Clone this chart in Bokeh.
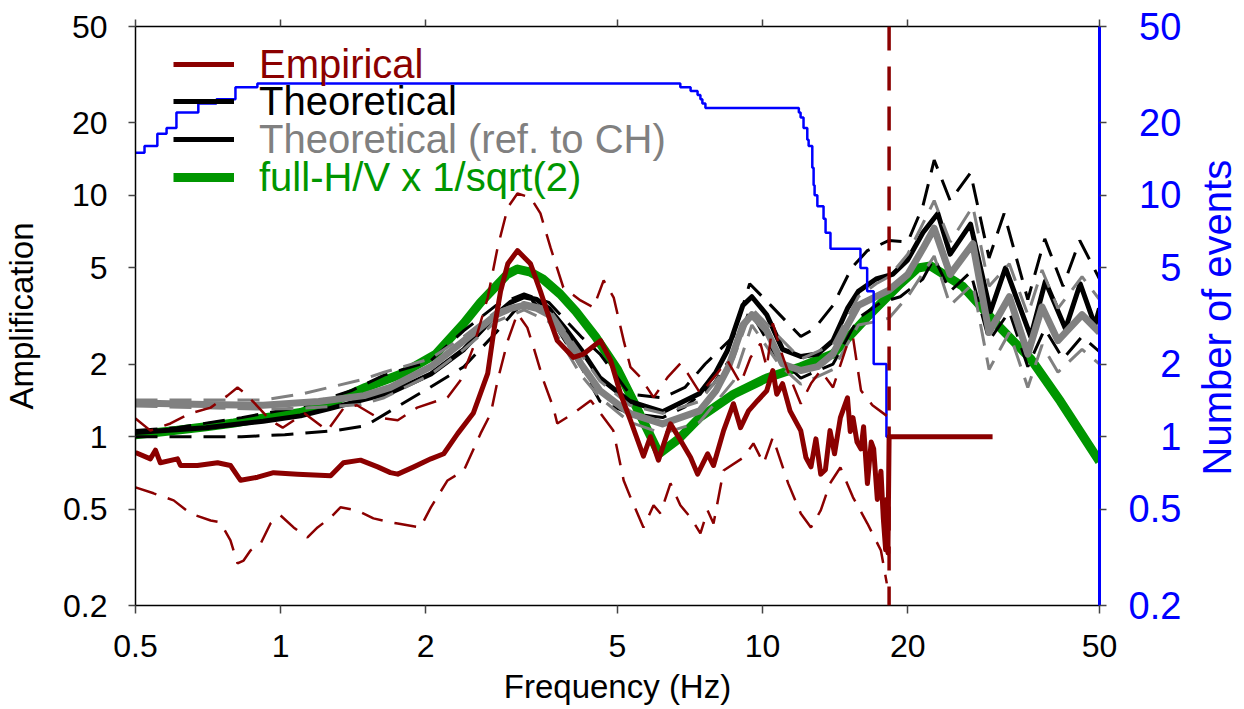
import math
from bokeh.plotting import figure
from bokeh.layouts import row
from bokeh.models import (Range1d, LogScale, LogAxis, FixedTicker, Legend, Span, Label,
                          NumeralTickFormatter, CustomJSTickFormatter)
from bokeh.embed import file_html
from bokeh.resources import INLINE

FONT = "Liberation Sans"
DARKRED = "#8b0000"
GREEN = "#009600"
GRAY = "#808080"

# ---------------- data ----------------
x_ticks = [0.5, 1, 2, 5, 10, 20, 50]
y_ticks = [0.2, 0.5, 1, 2, 5, 10, 20, 50]
y_tick_labels = ["0.2", "0.5", "1", "2", "5", "10", "20", "50"]

# full-H/V x 1/sqrt(2)
green_f = [0.5, 0.6, 0.7, 0.8, 0.93, 1.1, 1.27, 1.5, 1.78, 2.1, 2.4, 2.6, 2.8, 2.95, 3.1, 3.3,
           3.5, 3.8, 4.1, 4.5, 5.0, 5.5, 6.1, 6.7, 7.4, 8.7, 10.2, 12.0, 14.0, 16.4, 19.3,
           21.0, 22.3, 26.0, 31.0, 36.0, 41.5, 50.0]
green_a = [1.02, 1.06, 1.10, 1.14, 1.2, 1.26, 1.38, 1.6, 1.82, 2.2, 2.95, 3.6, 4.2, 4.7, 4.95, 4.8,
           4.5, 3.9, 3.3, 2.6, 1.9, 1.3, 0.85, 0.98, 1.2, 1.5, 1.75, 1.95, 2.2, 3.1, 4.3,
           5.0, 5.1, 4.2, 2.85, 2.1, 1.4, 0.79]

# Theoretical
theo_f = [0.5, 0.7, 0.92, 1.1, 1.27, 1.48, 1.69, 2.05, 2.4, 2.8, 3.0, 3.2, 3.4, 3.6, 3.9, 4.2,
          4.6, 5.3, 6.2, 7.4, 8.0, 8.45, 9.1, 9.5, 10.2, 11.0, 12.0, 13.0, 14.0, 15.0, 15.8,
          17.2, 18.6, 20.0, 21.5, 23.1, 24.5, 27.0, 29.7, 31.9, 36.0, 38.6, 42.5, 45.6, 48.9, 50.0]
theo_a = [1.04, 1.09, 1.16, 1.22, 1.31, 1.42, 1.52, 1.82, 2.3, 3.2, 3.6, 3.8, 3.7, 3.4, 2.8, 2.3,
          1.75, 1.4, 1.27, 1.51, 1.85, 2.27, 3.5, 3.8, 3.2, 2.3, 2.15, 2.2, 2.5, 3.4, 4.0,
          4.5, 4.7, 5.4, 7.0, 8.4, 5.7, 7.6, 3.3, 5.0, 2.6, 4.4, 2.8, 4.3, 2.9, 3.4]
theo_up_f = [0.5, 0.61, 0.83, 1.1, 1.4, 1.64, 2.04, 2.4, 2.8, 3.2, 3.6, 4.2, 4.6, 5.3, 6.2, 6.9,
             7.6, 8.7, 9.4, 10.4, 12.0, 12.8, 14.0, 15.3, 16.5, 18.3, 20.0, 21.5, 22.7, 24.5,
             27.0, 29.5, 31.7, 35.5, 38.5, 42.0, 45.5, 50.0]
theo_up_a = [1.06, 1.09, 1.2, 1.33, 1.55, 1.8, 2.05, 2.75, 3.5, 3.9, 3.6, 2.6, 2.2, 1.5, 1.45, 1.6,
             2.0, 2.6, 4.3, 3.5, 2.6, 2.8, 3.5, 5.0, 5.9, 6.5, 6.4, 9.0, 14.0, 9.5,
             12.4, 5.5, 8.4, 3.7, 6.6, 4.2, 6.5, 4.5]
theo_lo_f = [0.5, 0.61, 0.83, 1.02, 1.3, 1.5, 1.69, 2.04, 2.4, 2.8, 3.05, 3.3, 3.6, 4.2, 4.6, 5.3,
             6.2, 6.9, 7.9, 8.7, 9.4, 10.6, 12.0, 14.0, 15.8, 17.6, 19.3, 21.5, 22.7, 24.5,
             27.0, 29.5, 32.5, 35.5, 38.5, 42.0, 46.0, 50.0]
theo_lo_a = [1.0, 1.0, 1.0, 1.02, 1.06, 1.11, 1.28, 1.6, 1.95, 2.7, 3.3, 3.7, 3.2, 1.95, 1.4, 1.25,
             1.2, 1.33, 1.65, 2.2, 3.35, 2.2, 1.75, 2.0, 3.1, 3.6, 3.8, 4.5, 5.5, 4.0,
             4.8, 2.5, 3.3, 1.95, 2.8, 2.1, 2.6, 2.25]

# Theoretical (ref. to CH)
ref_f = [0.5, 0.7, 0.92, 1.2, 1.49, 1.69, 2.05, 2.4, 2.8, 3.0, 3.2, 3.4, 3.6, 3.9, 4.2, 4.6,
         5.3, 6.2, 7.4, 8.0, 8.5, 9.1, 9.5, 10.2, 11.0, 12.0, 13.0, 14.0, 15.0, 15.8, 18.3, 20.0,
         21.5, 22.7, 24.5, 27.3, 29.5, 32.5, 35.5, 38.0, 41.0, 46.0, 50.0]
ref_a = [1.38, 1.36, 1.35, 1.40, 1.48, 1.6, 1.95, 2.5, 3.2, 3.4, 3.5, 3.4, 3.2, 2.6, 2.0, 1.55,
         1.25, 1.13, 1.28, 1.55, 1.95, 2.9, 3.2, 2.75, 2.0, 1.88, 1.95, 2.2, 2.9, 3.5, 4.05, 4.7,
         6.0, 7.3, 4.7, 6.3, 2.7, 3.8, 2.2, 3.45, 2.5, 3.2, 2.7]
ref_band_f = [0.5, 0.92, 1.1, 1.47, 1.64, 2.04, 2.4, 2.8, 3.2, 3.6, 4.2, 4.6, 5.3, 6.2, 7.4, 8.7,
              9.5, 10.8, 12.0, 14.0, 15.8, 17.2, 18.3, 20.0, 22.7, 24.5, 27.3, 29.5, 32.5, 35.5,
              38.0, 41.0, 46.0, 50.0]
ref_up_a = [1.42, 1.42, 1.5, 1.72, 1.85, 2.1, 2.6, 3.3, 3.6, 3.4, 2.2, 1.7, 1.35, 1.25, 1.4, 2.1,
            3.4, 2.6, 2.1, 2.4, 3.8, 4.3, 4.6, 5.7, 9.5, 6.4, 9.0, 4.2, 5.2, 3.2,
            4.9, 3.4, 4.6, 3.7]
ref_lo_a = [1.34, 1.3, 1.31, 1.36, 1.45, 1.8, 2.3, 3.0, 3.35, 3.0, 1.8, 1.45, 1.15, 1.03, 1.15, 1.7,
            2.9, 2.0, 1.65, 1.9, 2.9, 3.0, 3.1, 3.8, 5.6, 3.5, 4.3, 1.9, 2.7, 1.6,
            2.4, 1.85, 2.3, 2.0]

# Empirical
emp_f = [0.500, 0.537, 0.550, 0.563, 0.611, 0.620, 0.672, 0.740, 0.787, 0.826, 0.896, 0.967,
         1.084, 1.27, 1.35, 1.465, 1.59, 1.69, 1.75, 1.89, 2.05, 2.18, 2.33, 2.51, 2.69, 2.77,
         2.86, 2.96, 3.10, 3.30, 3.46, 3.63, 3.75, 4.05, 4.25, 4.61, 4.84, 5.07, 5.32, 5.66,
         5.85, 6.08, 6.44, 6.75, 7.09, 7.33, 7.69, 7.91, 8.30, 8.70, 9.00, 9.35, 9.76, 10.2,
         10.5, 10.7, 11.0, 11.4, 12.0, 12.3, 12.6, 12.9, 13.2, 13.5, 13.8, 14.1, 14.5, 15.0,
         15.2, 15.4, 15.7, 16.0, 16.2, 16.5, 16.8, 17.0, 17.3, 17.6, 17.8, 18.0, 18.1, 18.2,
         18.3, 30.0]
emp_a = [0.86, 0.81, 0.88, 0.78, 0.81, 0.76, 0.76, 0.78, 0.76, 0.66, 0.68, 0.71,
         0.70, 0.69, 0.78, 0.80, 0.75, 0.71, 0.70, 0.75, 0.81, 0.85, 1.03, 1.25, 1.83, 2.75,
         4.0, 5.2, 5.9, 5.2, 4.0, 3.0, 2.5, 2.13, 2.2, 2.5, 2.07, 1.51, 1.17, 0.83,
         1.0, 0.80, 1.13, 0.97, 0.82, 0.70, 0.85, 0.76, 1.06, 1.37, 1.09, 1.28, 1.41, 1.55,
         1.88, 1.5, 1.66, 1.28, 1.06, 0.82, 0.75, 0.98, 0.70, 0.73, 1.06, 0.85, 1.2, 1.45,
         1.05, 1.2, 0.95, 0.89, 1.1, 0.64, 0.95, 0.89, 0.55, 0.72, 0.46, 0.34, 0.55, 0.33,
         1.0, 1.0]
emp_up_f = [0.500, 0.537, 0.591, 0.650, 0.716, 0.776, 0.814, 0.838, 0.879, 0.953, 1.01, 1.12,
            1.25, 1.35, 1.44, 1.59, 1.75, 1.92, 2.22, 2.36, 2.51, 2.69, 2.82, 2.96, 3.10, 3.30,
            3.46, 3.63, 3.86, 4.19, 4.46, 4.68, 4.91, 5.15, 5.32, 5.58, 5.94, 6.35, 6.75, 6.99,
            7.43, 7.98, 8.45, 9.00, 9.44, 9.90, 10.2, 10.5, 10.9, 11.4, 12.0, 12.6, 13.2, 14.0,
            15.0, 15.4, 16.0, 16.9, 18.1]
emp_up_a = [1.19, 1.06, 1.135, 1.25, 1.32, 1.48, 1.60, 1.53, 1.39, 1.17, 1.09, 1.25,
            1.06, 1.31, 1.35, 1.20, 1.17, 1.32, 1.455, 1.71, 2.34, 3.77, 6.08, 8.90, 10.17, 9.79,
            8.41, 6.08, 4.15, 3.67, 3.43, 4.44, 3.77, 2.50, 1.94, 1.76, 1.455, 1.76, 2.01, 1.83,
            1.51, 1.79, 2.07, 1.66, 2.13, 2.43, 1.94, 2.95, 2.28, 1.76, 1.37, 1.66, 1.88, 1.60,
            2.43, 2.58, 1.555, 1.35, 1.22]
emp_lo_f = [0.500, 0.545, 0.600, 0.650, 0.716, 0.750, 0.787, 0.814, 0.838, 0.866, 0.909, 0.953,
            1.00, 1.064, 1.137, 1.193, 1.27, 1.331, 1.44, 1.558, 1.69, 1.75, 1.95, 2.05, 2.22,
            2.40, 2.60, 2.73, 2.82, 2.96, 3.10, 3.25, 3.35, 3.51, 3.68, 3.75, 4.05, 4.40, 4.90,
            5.15, 5.32, 5.66, 5.94, 6.14, 6.44, 6.75, 7.09, 7.43, 7.69, 7.91, 8.30, 9.13, 9.57,
            10.05, 10.5, 11.3, 12.0, 12.6, 13.2, 13.8, 14.5, 15.4, 16.5, 17.6, 18.1]
emp_lo_a = [0.617, 0.583, 0.545, 0.481, 0.450, 0.442, 0.372, 0.299, 0.307, 0.338, 0.361, 0.437,
            0.472, 0.421, 0.383, 0.421, 0.463, 0.510, 0.495, 0.459, 0.442, 0.437, 0.421, 0.510,
            0.659, 0.725, 1.032, 1.249, 1.71, 2.50, 3.24, 2.83, 2.34, 1.71, 1.32, 1.135, 1.249,
            1.414, 1.062, 0.659, 0.561, 0.421, 0.52, 0.481, 0.641, 0.52, 0.463, 0.398, 0.495,
            0.437, 0.725, 0.821, 0.938, 0.775, 0.993, 0.641, 0.481, 0.421, 0.495, 0.641, 0.746,
            0.561, 0.437, 0.338, 0.247]

# Number of events (right axis)
ev_f = [0.5, 0.522, 0.555, 0.580, 0.608, 0.675, 0.736, 0.806, 0.895, 6.75, 7.09, 7.33, 7.43,
        7.50, 7.61, 11.89, 11.99, 12.16, 12.38, 12.46, 12.68, 12.76, 12.82, 12.99, 13.38,
        13.51, 13.83, 15.96, 16.48, 17.0, 18.07, 18.2]
ev_n = [15, 16, 18, 19, 22, 24, 25, 28, 29, 28, 27, 26, 25, 24, 23, 22, 21, 19, 17, 16, 13,
        11, 10, 9, 8, 7, 6, 5, 4, 2, 1, 1]

f_limit = 18.3   # vertical dashed line (Hz)
x_min, x_max = 0.5, 50
y_min, y_max = 0.2, 50

# ---------------- layout constants (pixels) ----------------
W, H = 1244, 709
TITLE_W = 50                       # strip on the right holding the right-axis title
FRAME_L, FRAME_R, FRAME_T, FRAME_B = 135, 1099, 26, 605
TITLE_START = 475                  # pixel row where the rotated right title begins
PW = W - TITLE_W

# ---------------- main figure ----------------
p = figure(width=PW, height=H, x_axis_type="log", y_axis_type="log",
           x_range=Range1d(x_min, x_max), y_range=Range1d(y_min, y_max),
           output_backend="svg", toolbar_location=None,
           min_border_left=FRAME_L, min_border_right=PW - FRAME_R,
           min_border_top=FRAME_T, min_border_bottom=H - FRAME_B)
p.grid.visible = False
p.outline_line_color = None
p.extra_y_ranges = {"events": Range1d(y_min, y_max)}
p.extra_y_scales = {"events": LogScale()}

DASH = "22 12"

r_green = p.line(green_f, green_a, line_color=GREEN, line_width=9, line_join="round")
p.line(theo_up_f, theo_up_a, line_color="black", line_width=3, line_dash=DASH)
p.line(theo_lo_f, theo_lo_a, line_color="black", line_width=3, line_dash=DASH)
r_theo = p.line(theo_f, theo_a, line_color="black", line_width=5, line_join="round")
p.line(ref_band_f, ref_up_a, line_color=GRAY, line_width=3, line_dash=DASH)
p.line(ref_band_f, ref_lo_a, line_color=GRAY, line_width=3, line_dash=DASH)
p.line(ref_f, ref_a, line_color=GRAY, line_width=7, line_join="round")
p.step(ev_f, ev_n, mode="after", line_color="blue", line_width=2.5, y_range_name="events")
p.line(emp_up_f, emp_up_a, line_color=DARKRED, line_width=2.5, line_dash=DASH)
p.line(emp_lo_f, emp_lo_a, line_color=DARKRED, line_width=2.5, line_dash=DASH)
r_emp = p.line(emp_f, emp_a, line_color=DARKRED, line_width=5, line_join="round")
# legend key only (black line for the "ref. to CH" entry)
r_ref_key = p.line(x=[float("nan")], y=[float("nan")], line_color="black", line_width=5)

p.add_layout(Span(location=f_limit, dimension="height", line_color=DARKRED,
                  line_width=3.5, line_dash="24 16"))

# ---------------- axes ----------------
def style_axis(ax, size="32px"):
    ax.major_label_text_font = FONT
    ax.major_label_text_font_size = size
    ax.major_label_text_color = "black"
    ax.axis_label_text_font = FONT
    ax.axis_label_text_font_style = "normal"
    ax.axis_label_text_color = "black"
    ax.axis_label_text_font_size = "33px"
    ax.major_tick_in = 0
    ax.major_tick_out = 7
    ax.minor_tick_in = 0
    ax.minor_tick_out = 0
    ax.axis_line_color = "black"
    ax.axis_line_width = 1.5
    ax.major_tick_line_color = "#444444"
    ax.major_tick_line_width = 1.5

xa = p.xaxis[0]
style_axis(xa)
xa.ticker = FixedTicker(ticks=x_ticks)
xa.formatter = NumeralTickFormatter(format="0.[0]")
xa.axis_label = "Frequency (Hz)"
xa.major_label_standoff = 21
xa.axis_label_standoff = 8
xa.major_tick_out = 8

ya = p.yaxis[0]
style_axis(ya)
ya.ticker = FixedTicker(ticks=y_ticks)
ya.formatter = NumeralTickFormatter(format="0.[0]")
ya.axis_label = "Amplification"
ya.major_label_standoff = 21
ya.axis_label_standoff = 20

top = LogAxis(ticker=FixedTicker(ticks=x_ticks), formatter=CustomJSTickFormatter(code="return ''"))
style_axis(top)
top.major_label_standoff = 0
p.add_layout(top, "above")

# right axis: labels padded with no-break spaces so that they end flush right
def _units(s):
    return sum(1 if ch == "." else 2 for ch in s)
_w = max(_units(s) for s in y_tick_labels)
right_labels = ["\u00a0" * (_w - _units(s)) + s for s in y_tick_labels]

right = LogAxis(y_range_name="events", ticker=FixedTicker(ticks=y_ticks),
                formatter=CustomJSTickFormatter(
                    args=dict(vals=y_ticks, labels=right_labels),
                    code="const i = vals.indexOf(tick); return i >= 0 ? labels[i] : '';"))
style_axis(right, "38px")
right.major_label_text_color = "blue"
right.major_label_standoff = 22
right.axis_line_color = "blue"
right.axis_line_width = 3
p.add_layout(right, "right")

# ---------------- legend ----------------
def add_legend(label, rend, color, vy):
    leg = Legend(items=[(label, [rend])], location=(38, vy),
                 label_text_color=color, label_text_font=FONT, label_text_font_size="40px",
                 glyph_width=61, glyph_height=46, label_height=46, label_standoff=25,
                 padding=0, margin=0, spacing=0, border_line_color=None,
                 background_fill_alpha=0)
    p.add_layout(leg)

add_legend("Empirical", r_emp, DARKRED, 518)
add_legend("Theoretical", r_theo, "black", 481)
add_legend("Theoretical (ref. to CH)", r_ref_key, GRAY, 443)
add_legend("full-H/V x 1/sqrt(2)", r_green, GREEN, 405)

# ---------------- right-axis title strip (reads bottom to top) ----------------
# its frame has the same top/bottom borders as the main plot, so screen y is measured
# from the same bottom edge (FRAME_B)
q = figure(width=TITLE_W, height=H, x_range=Range1d(0, 1), y_range=Range1d(0, 1),
           output_backend="svg", toolbar_location=None,
           x_axis_location=None, y_axis_location=None,
           min_border_left=0, min_border_right=0,
           min_border_top=FRAME_T, min_border_bottom=H - FRAME_B)
q.grid.visible = False
q.outline_line_color = None
q.add_layout(Label(x=22, y=FRAME_B - TITLE_START, x_units="screen", y_units="screen",
                   text="Number of events", angle=math.pi / 2, text_align="left",
                   text_baseline="middle", text_color="blue", text_font=FONT,
                   text_font_size="40px"))

layout = row(p, q, spacing=0)
open("out.html", "w").write(file_html(layout, INLINE))
